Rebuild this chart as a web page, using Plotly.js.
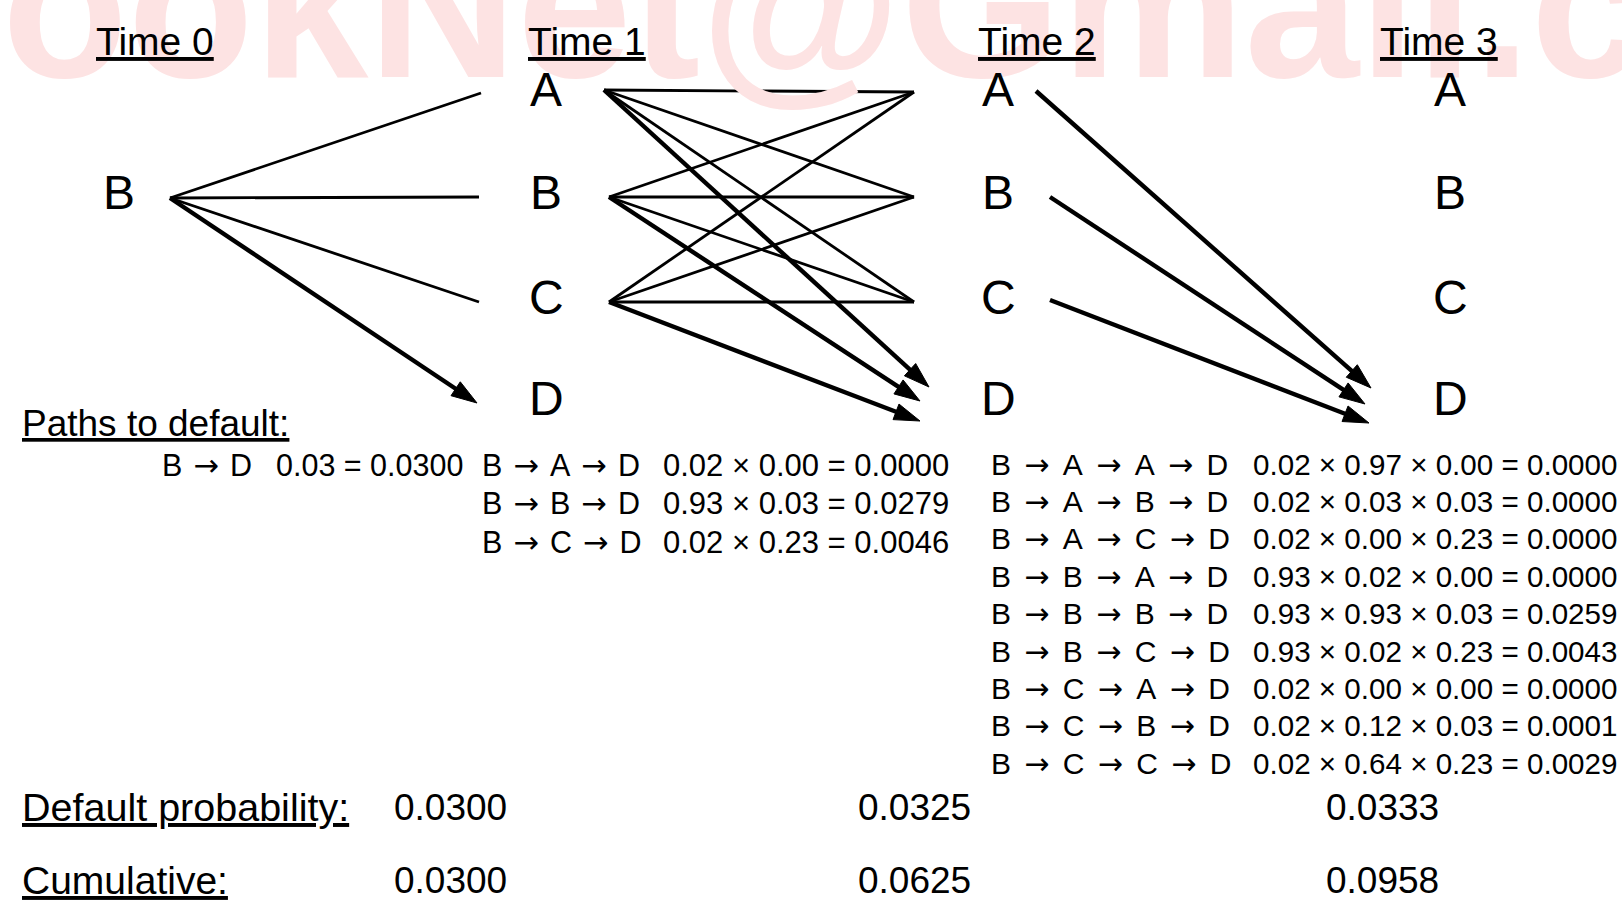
<!DOCTYPE html>
<html>
<head>
<meta charset="utf-8">
<script src="https://cdn.plot.ly/plotly-3.0.1.min.js"></script>
<style>html,body{margin:0;padding:0;background:#fff;}#chart{width:1622px;height:906px;}</style>
</head>
<body>
<div id="chart"></div>
<script>
// ---------------- data ----------------
const timeLabels = ['Time 0', 'Time 1', 'Time 2', 'Time 3'];
const stateLabels = ['A', 'B', 'C', 'D'];
const initialState = 'B';
// transitions drawn between consecutive times: [fromTime, fromState, toState]
const plainEdges = [
  [0, 'B', 'A'], [0, 'B', 'B'], [0, 'B', 'C'],
  [1, 'A', 'A'], [1, 'A', 'B'], [1, 'A', 'C'],
  [1, 'B', 'A'], [1, 'B', 'B'], [1, 'B', 'C'],
  [1, 'C', 'A'], [1, 'C', 'B'], [1, 'C', 'C']
];
const defaultEdges = [
  [0, 'B', 'D'],
  [1, 'A', 'D'], [1, 'B', 'D'], [1, 'C', 'D'],
  [2, 'A', 'D'], [2, 'B', 'D'], [2, 'C', 'D']
];
const pathsTime1 = [['B', 'D']];
const formulasTime1 = ['0.03 = 0.0300'];
const pathsTime2 = [['B', 'A', 'D'], ['B', 'B', 'D'], ['B', 'C', 'D']];
const formulasTime2 = ['0.02 \u00d7 0.00 = 0.0000', '0.93 \u00d7 0.03 = 0.0279', '0.02 \u00d7 0.23 = 0.0046'];
const pathsTime3 = [
  ['B', 'A', 'A', 'D'], ['B', 'A', 'B', 'D'], ['B', 'A', 'C', 'D'],
  ['B', 'B', 'A', 'D'], ['B', 'B', 'B', 'D'], ['B', 'B', 'C', 'D'],
  ['B', 'C', 'A', 'D'], ['B', 'C', 'B', 'D'], ['B', 'C', 'C', 'D']
];
const formulasTime3 = [
  '0.02 \u00d7 0.97 \u00d7 0.00 = 0.0000', '0.02 \u00d7 0.03 \u00d7 0.03 = 0.0000', '0.02 \u00d7 0.00 \u00d7 0.23 = 0.0000',
  '0.93 \u00d7 0.02 \u00d7 0.00 = 0.0000', '0.93 \u00d7 0.93 \u00d7 0.03 = 0.0259', '0.93 \u00d7 0.02 \u00d7 0.23 = 0.0043',
  '0.02 \u00d7 0.00 \u00d7 0.00 = 0.0000', '0.02 \u00d7 0.12 \u00d7 0.03 = 0.0001', '0.02 \u00d7 0.64 \u00d7 0.23 = 0.0029'
];
const defaultProbability = ['0.0300', '0.0325', '0.0333'];
const cumulativeProbability = ['0.0300', '0.0625', '0.0958'];
const watermarkText = 'ookNet@Gmail.com';

// ---------------- layout geometry (pixels) ----------------
const FONT = 'Liberation Sans, Arial, Helvetica, sans-serif';
const INK = '#000000';
const ARROW_NARROW = '\u00a0\u200a<span style="font-family:DejaVu Sans">\u2192</span>\u200a\u00a0';
const ARROW_WIDE = '\u00a0\u200a\u200a<span style="font-family:DejaVu Sans">\u2192</span>\u200a\u200a\u00a0';
const colX = [119, 546, 998, 1450];
const timeLabelX = [155, 587, 1037, 1439];
const rowY = {A: 89.5, B: 192.5, C: 297.5, D: 398.5};
// where edges leave a node (right side) and arrive (left side)
const outAnchor = {
  0: {B: [170, 198]},
  1: {A: [604, 90], B: [609, 197], C: [609, 302]},
  2: {A: [1036, 91], B: [1050, 197], C: [1050, 300]}
};
const inAnchor = {
  1: {A: [481, 93], B: [479, 197], C: [479, 302]},
  2: {A: [914, 92], B: [914, 197], C: [914, 302]}
};
const defaultTip = {
  1: {B: [477, 403]},
  2: {A: [929, 387], B: [920, 401], C: [920, 421]},
  3: {A: [1371, 388], B: [1365, 404], C: [1369, 423]}
};

const traces = [];
const px = [], py = [];
plainEdges.forEach(([t, s, e]) => {
  const a = outAnchor[t][s], b = inAnchor[t + 1][e];
  px.push(a[0], b[0], null); py.push(a[1], b[1], null);
});
traces.push({x: px, y: py, mode: 'lines', line: {color: INK, width: 2.8}, hoverinfo: 'skip'});
defaultEdges.forEach(([t, s, e]) => {
  const a = outAnchor[t][s], b = defaultTip[t + 1][s];
  traces.push({
    x: [a[0], b[0]], y: [a[1], b[1]], mode: 'lines+markers',
    line: {color: INK, width: 4.4},
    marker: {symbol: 'arrow', size: [0, 27], angleref: 'previous', color: INK, opacity: 1,
             line: {width: 1, color: INK}},
    hoverinfo: 'skip'
  });
});

const ann = [];
function txt(text, x, y, size, xanchor, extra) {
  ann.push(Object.assign({text: text, x: x, y: y, xref: 'x', yref: 'y', showarrow: false,
    xanchor: xanchor, yanchor: 'middle', font: {family: FONT, size: size, color: INK}}, extra || {}));
}
// watermark
txt(watermarkText, 0, 6, 206, 'left', {font: {family: FONT, size: 206, color: '#fde3e3', weight: 'bold'}});
// time headers
timeLabels.forEach((t, i) => txt('<u>' + t + '</u>', timeLabelX[i], 41, 39, 'center'));
// nodes
txt(initialState, colX[0], rowY[initialState], 48, 'center');
for (let i = 1; i < timeLabels.length; i++) {
  stateLabels.forEach(s => txt(s, colX[i], rowY[s], 48, 'center'));
}
// paths to default
txt('<u>Paths to default:</u>', 20, 423, 37, 'left');
pathsTime1.forEach((p, i) => { txt(p.join(ARROW_NARROW), 160, 465 + i * 38.5, 30.5, 'left'); txt(formulasTime1[i], 274, 465 + i * 38.5, 30.5, 'left'); });
pathsTime2.forEach((p, i) => { txt(p.join(ARROW_NARROW), 480, 465 + i * 38.5, 30.5, 'left'); txt(formulasTime2[i], 661, 465 + i * 38.5, 31, 'left'); });
pathsTime3.forEach((p, i) => { txt(p.join(ARROW_WIDE), 989, 464 + i * 37.4, 30, 'left'); txt(formulasTime3[i], 1251, 464 + i * 37.4, 29.6, 'left'); });
// summary rows
const valueX = [392, 856, 1324];
txt('<u>Default probability:</u>', 20, 807, 39.5, 'left');
txt('<u>Cumulative:</u>', 20, 880, 39, 'left');
defaultProbability.forEach((v, i) => txt(v, valueX[i], 807, 37, 'left'));
cumulativeProbability.forEach((v, i) => txt(v, valueX[i], 880, 37, 'left'));

const layout = {
  width: 1622, height: 906,
  margin: {l: 0, r: 0, t: 0, b: 0, pad: 0},
  paper_bgcolor: '#ffffff', plot_bgcolor: '#ffffff',
  showlegend: false,
  xaxis: {range: [0, 1622], visible: false, fixedrange: true},
  yaxis: {range: [906, 0], visible: false, fixedrange: true},
  annotations: ann
};
Plotly.newPlot('chart', traces, layout, {displayModeBar: false, staticPlot: true});
</script>
</body>
</html>
